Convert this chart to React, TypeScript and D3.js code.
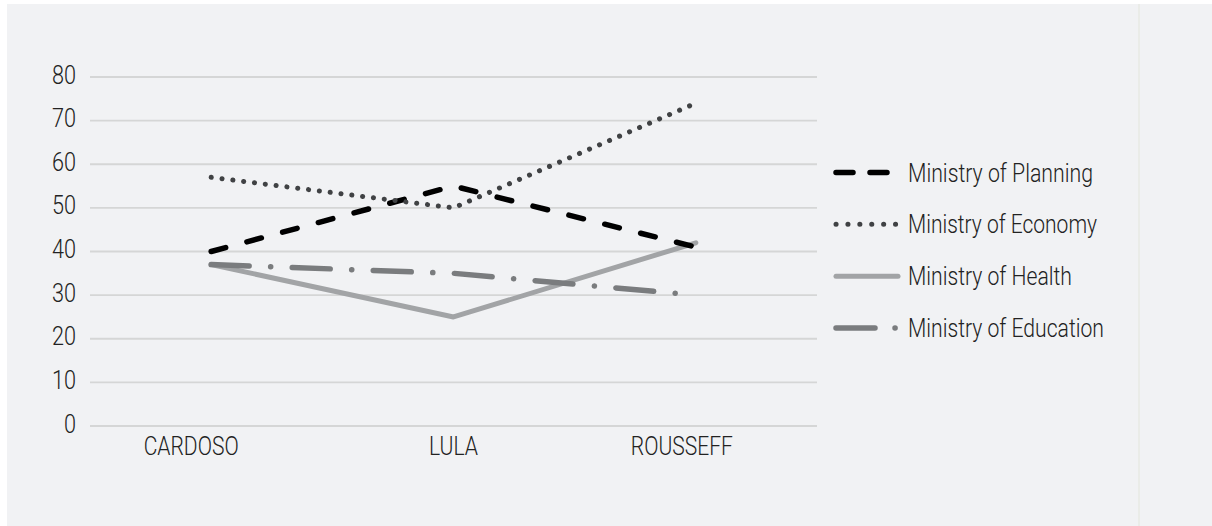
import React from "react";
import * as d3 from "d3";

const categories = ["CARDOSO", "LULA", "ROUSSEFF"];
const yTicks = [0, 10, 20, 30, 40, 50, 60, 70, 80];
const seriesNames = [
  "Ministry of Planning",
  "Ministry of Economy",
  "Ministry of Health",
  "Ministry of Education",
];
const planning = [40, 55, 41];
const economy = [57, 50, 74];
const health = [37, 25, 42];
const education = [37, 35, 30];

const W = 1212;
const H = 526;
const FONT = "Roboto, 'Liberation Sans', Arial, sans-serif";
const TEXT_COLOR = "#222222";
const FS = 26;

const styles = [
  { color: "#000000", dash: "15,22", legendDash: "17,17" },
  { color: "#404244", dash: "0.1,10.8", legendDash: "0.1,11.8" },
  { color: "#a2a4a6", dash: "none", legendDash: "none" },
  { color: "#7a7c7e", dash: "38,21.5,0.1,21.5", legendDash: "39,20,0.1,100" },
];
const widths = [5.5, 5, 5, 5.5];
const labelWidths = [95, 49, 102];
const labelNudge = [-20, 0, -14];
const legendTextWidths = [185, 189, 164, 196];

export default function App() {
  const x = d3.scalePoint<string>().domain(categories).range([90, 817]).padding(0.5);
  const y = d3.scaleLinear().domain([0, 80]).range([426, 77]);
  const line = d3
    .line<number>()
    .x((_, i) => x(categories[i]) as number)
    .y((d) => y(d));
  const allSeries = [planning, economy, health, education];
  const legendY = d3.scalePoint<string>().domain(seriesNames).range([172.5, 328]);

  return (
    <svg
      width={W}
      height={H}
      style={{ position: "absolute", left: 0, top: 0, display: "block" }}
    >
      <rect x={0} y={0} width={W} height={H} fill="#ffffff" />
      <rect x={7} y={4} width={W - 7} height={H - 4} fill="#f1f2f4" />
      <line x1={1139} x2={1139} y1={4} y2={H} stroke="#e7eae5" strokeWidth={1.5} />

      {yTicks.map((t) => (
        <g key={t}>
          <line x1={90} x2={817} y1={y(t)} y2={y(t)} stroke="#d5d6d6" strokeWidth={1.8} />
          <text
            x={76}
            y={y(t) + 6.5}
            textAnchor="end"
            fontFamily={FONT}
            fontWeight={300}
            fontSize={FS}
            fill={TEXT_COLOR}
            textLength={String(t).length * 12}
            lengthAdjust="spacingAndGlyphs"
          >
            {t}
          </text>
        </g>
      ))}

      {categories.map((c, i) => (
        <text
          key={c}
          x={(x(c) as number) + labelNudge[i] - labelWidths[i] / 2}
          y={455}
          fontFamily={FONT}
          fontWeight={300}
          fontSize={FS}
          fill={TEXT_COLOR}
          textLength={labelWidths[i]}
          lengthAdjust="spacingAndGlyphs"
        >
          {c}
        </text>
      ))}

      {[2, 3, 0, 1].map((si) => (
        <path
          key={si}
          d={line(allSeries[si]) || ""}
          fill="none"
          stroke={styles[si].color}
          strokeWidth={widths[si]}
          strokeDasharray={styles[si].dash}
          strokeLinecap="round"
          strokeLinejoin="round"
        />
      ))}

      {seriesNames.map((n, i) => {
        const ly = legendY(n) as number;
        return (
          <g key={n}>
            <line
              x1={836}
              x2={898}
              y1={ly}
              y2={ly}
              stroke={styles[i].color}
              strokeWidth={widths[i]}
              strokeDasharray={styles[i].legendDash}
              strokeLinecap="round"
            />
            <text
              x={908}
              y={ly + 9}
              fontFamily={FONT}
              fontWeight={300}
              fontSize={FS}
              fill={TEXT_COLOR}
              textLength={legendTextWidths[i]}
              lengthAdjust="spacingAndGlyphs"
            >
              {n}
            </text>
          </g>
        );
      })}
    </svg>
  );
}
